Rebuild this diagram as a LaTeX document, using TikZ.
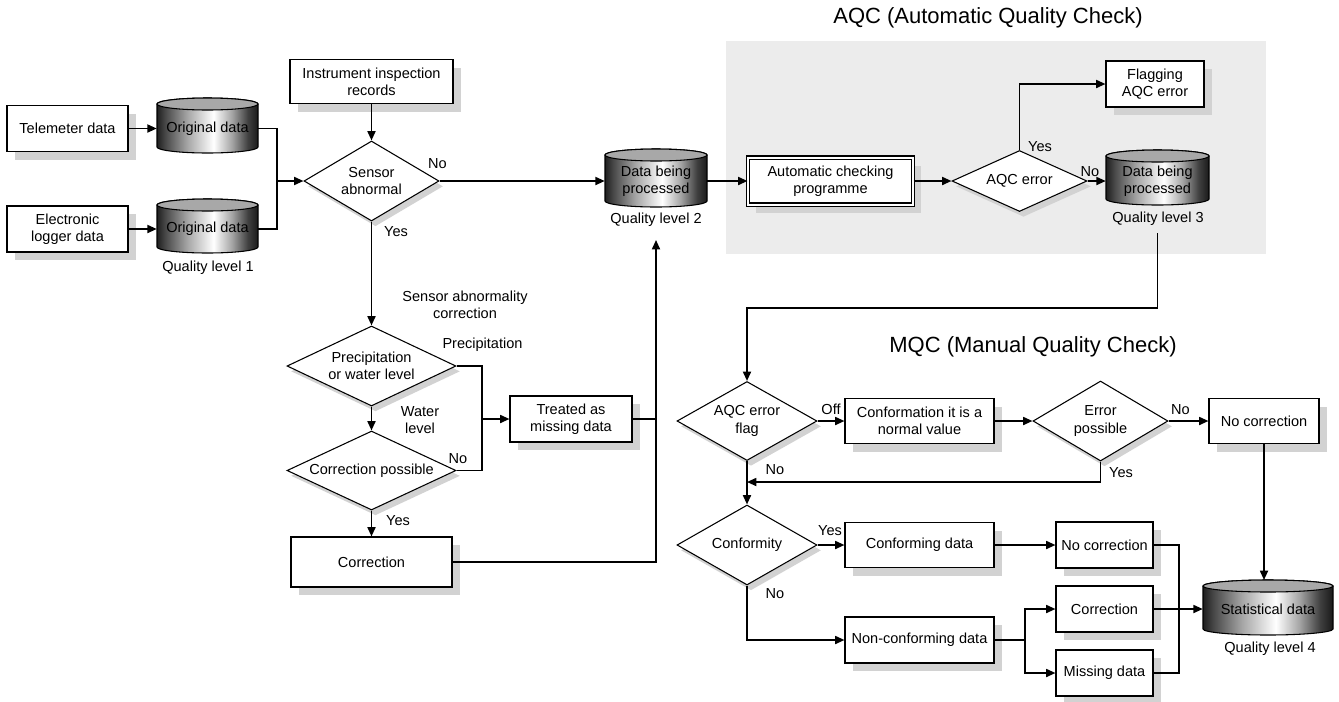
\documentclass[tikz,border=0pt]{standalone}
\usepackage{fontspec}
\setmainfont{Liberation Sans}
\usetikzlibrary{shapes.geometric,arrows.meta,shadows,calc}
\definecolor{bggray}{RGB}{236,236,236}
\definecolor{shadowgray}{RGB}{210,210,210}
\definecolor{cyltop}{RGB}{168,168,168}
\pgfdeclarehorizontalshading{cylshade}{100bp}{color(0bp)=(black!88); color(25bp)=(black!88); color(29bp)=(black!72); color(40bp)=(black!35); color(53bp)=(white); color(62bp)=(black!35); color(70bp)=(black!75); color(75bp)=(black!90); color(100bp)=(black!90)}
\newcommand{\dbcyl}[7]{%
 \shadedraw[shading=cylshade, line width=0.8pt] ($(#2,#3)+(-#4*0.375pt,#5*0.375pt-4.5pt)$) -- ++(0pt,-#5*0.75pt+9pt) arc[start angle=180,end angle=360,x radius=#4*0.375pt,y radius=4.5pt] -- ++(0pt,#5*0.75pt-9pt) arc[start angle=0,end angle=180,x radius=#4*0.375pt,y radius=4.5pt] -- cycle;
 \filldraw[fill=cyltop, line width=0.8pt] ($(#2,#3)+(0pt,#5*0.375pt-4.5pt)$) ellipse[x radius=#4*0.375pt, y radius=4.5pt];
 \node[cyltext, minimum width=#4*0.75pt] (#1) at (#2,#6) {#7};
}
\tikzset{
 sz/.style 2 args={minimum width=#1*0.75pt, minimum height=#2*0.75pt},
 box/.style={draw, fill=white, line width=0.8pt, align=center, inner sep=0pt,
   drop shadow={shadow xshift=6pt, shadow yshift=-6pt, fill=shadowgray, opacity=1}},
 dbox/.style={box, draw=black, double=white, double distance=1.5pt, line width=0.8pt},
 dia/.style={diamond, draw, fill=white, line width=0.8pt, align=center, inner sep=0pt, aspect=2.2,
   drop shadow={shadow xshift=3pt, shadow yshift=-4pt, fill=shadowgray, opacity=1}},
 cyltext/.style={inner sep=0pt, align=center, minimum height=20pt},
 conn/.style={line width=1.3pt},
 arr/.style={conn, -{Triangle[length=7pt,width=6pt]}},
 lbl/.style={inner sep=0pt, align=center},
 ttl/.style={inner sep=0pt, font=\fontsize{16.5pt}{19pt}\selectfont}
}
\begin{document}
\begin{tikzpicture}[x=0.75pt, y=-0.75pt, font=\fontsize{10.9pt}{13pt}\selectfont]
\useasboundingbox (0,0) rectangle (1339,701);
% AQC background
\fill[bggray] (726,41) rectangle (1266,254);
\node[ttl] (aqct) at (988,18) {AQC (Automatic Quality Check)};
\node[ttl] (mqct) at (1033,347) {MQC (Manual Quality Check)};

% left part
\node[box, sz={121}{46}] (tele) at (67.5,128.5) {Telemeter data};
\node[box, sz={121}{46}] (logger) at (67.5,229) {Electronic\\logger data};
\dbcyl{orig1}{207.5}{125.5}{101}{55}{128.5}{Original data}
\dbcyl{orig2}{207.5}{226}{101}{54}{229}{Original data}
\node[lbl] (q1) at (208,268) {Quality level 1};
\node[box, sz={163}{44}] (instr) at (371.5,81.5) {Instrument inspection\\records};
\node[dia, sz={135}{80}] (sensor) at (371.5,181) {Sensor\\abnormal};
\dbcyl{dbp2}{656}{178}{102}{58}{181}{Data being\\processed}
\node[lbl] (q2) at (656,220) {Quality level 2};
\node[dia, sz={169}{80}] (precip) at (371.5,366) {Precipitation\\or water level};
\node[box, sz={122}{46}] (treated) at (571,419) {Treated as\\missing data};
\node[dia, sz={169}{79}] (corrposs) at (371.5,470.5) {Correction possible};
\node[box, sz={161}{50}] (corr) at (371.5,562) {Correction};

\node[lbl] (lno1) at (437.5,164) {No};
\node[lbl] (lyes1) at (396,232) {Yes};
\node[lbl] (lsac) at (465,305) {Sensor abnormality\\correction};
\node[lbl] (lprec) at (482.5,345) {Precipitation};
\node[lbl] (lwl) at (420,420) {Water\\level};
\node[lbl] (lno2) at (458,459) {No};
\node[lbl] (lyes2) at (398,521) {Yes};

% AQC part
\node[dbox, sz={165}{47}] (acp) at (830.5,181) {Automatic checking\\programme};
\node[dia, sz={135}{61}] (aqcerr) at (1019.5,181) {AQC error};
\node[box, sz={98}{46}] (flag) at (1155,84) {Flagging\\AQC error};
\dbcyl{dbp3}{1157.5}{177.5}{103}{55}{181}{Data being\\processed}
\node[lbl] (q3) at (1158,219) {Quality level 3};
\node[lbl] (lyes3) at (1040,147) {Yes};
\node[lbl] (lno3) at (1090,172) {No};

% MQC part
\node[dia, sz={140}{79}] (aqcflag) at (747,421) {AQC error\\flag};
\node[box, sz={149}{45}] (confm) at (919.5,421) {Conformation it is a\\normal value};
\node[dia, sz={135}{80}] (errposs) at (1100.5,421) {Error\\possible};
\node[box, sz={110}{45}] (nocorr1) at (1264,421) {No correction};
\node[dia, sz={140}{80}] (conformity) at (747,545) {Conformity};
\node[box, sz={149}{45}] (conforming) at (919.5,545) {Conforming data};
\node[box, sz={97}{46}] (nocorr2) at (1104.5,545) {No correction};
\node[box, sz={149}{46}] (nonconf) at (919.5,640) {Non-conforming data};
\node[box, sz={97}{46}] (corrB) at (1104.5,609) {Correction};
\node[box, sz={97}{46}] (missing) at (1104.5,673) {Missing data};
\dbcyl{stat}{1268}{607.5}{130}{55}{609}{Statistical data}
\node[lbl] (q4) at (1270,649) {Quality level 4};
\node[lbl] (loff) at (831,409) {Off};
\node[lbl] (lno4) at (1180.5,410) {No};
\node[lbl] (lyes4) at (1121,473) {Yes};
\node[lbl] (lno5) at (775,470) {No};
\node[lbl] (lyes5) at (830,531) {Yes};
\node[lbl] (lno6) at (775,594) {No};

% coordinates
\coordinate (jm1) at (277,181);
\coordinate (jr) at (482,419);
\coordinate (q2in) at (656,240);
\coordinate (q3out) at (1157.5,233);
\coordinate (jt) at (747,308);
\coordinate (jf) at (747,482);
\coordinate (js) at (1025,640);
\coordinate (jm) at (1179,609);
\coordinate (stattop) at (1268,580);

% connectors left
\draw[arr] (tele) -- (orig1);
\draw[arr] (logger) -- (orig2);
\draw[conn] (orig1.east) -| (jm1) |- (orig2.east);
\draw[arr] (jm1) -- (sensor);
\draw[arr] (instr) -- (sensor);
\draw[arr] (sensor) -- (dbp2);
\draw[arr] (sensor) -- (precip);
\draw[conn] (precip.east) -| (jr) |- (corrposs.east);
\draw[arr] (jr) -- (treated);
\draw[arr] (precip) -- (corrposs);
\draw[arr] (corrposs) -- (corr);
\draw[arr] (corr.east) -| (q2in);
\draw[conn] (treated.east) -- (treated.east -| q2in);

% connectors AQC
\draw[arr] (dbp2) -- (acp);
\draw[arr] (acp) -- (aqcerr);
\draw[arr] (aqcerr.north) |- (flag.west);
\draw[arr] (aqcerr) -- (dbp3);
\draw[arr] (q3out) |- (jt) -- (aqcflag);

% connectors MQC
\draw[arr] (aqcflag) -- (confm);
\draw[arr] (confm) -- (errposs);
\draw[arr] (errposs) -- (nocorr1);
\draw[arr] (errposs.south) |- (jf);
\draw[arr] (aqcflag) -- (conformity);
\draw[arr] (conformity) -- (conforming);
\draw[arr] (conforming) -- (nocorr2);
\draw[arr] (conformity.south) |- (nonconf.west);
\draw[conn] (nonconf.east) -- (js);
\draw[arr] (js) |- (corrB.west);
\draw[arr] (js) |- (missing.west);
\draw[conn] (nocorr2.east) -| (jm) |- (missing.east);
\draw[arr] (corrB) -- (stat);
\draw[arr] (nocorr1) -- (nocorr1 |- stattop);
\end{tikzpicture}
\end{document}
